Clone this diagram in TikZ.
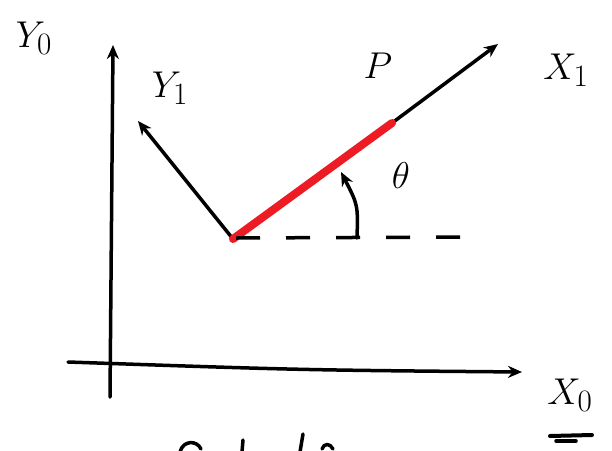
\documentclass[tikz,border=0pt]{standalone}
\usetikzlibrary{arrows.meta}
\newcommand{\biglbl}[1]{\scalebox{1.5}{\Huge$#1$}}
\begin{document}
\begin{tikzpicture}[x=1pt,y=-1pt,
  pen/.style={line width=3.5pt,line cap=round,line join=round,black},
  redpen/.style={line width=8pt,line cap=round,color={rgb,255:red,237;green,28;blue,36}},
  tip/.style={-{Stealth[length=14pt,width=12pt]}},
  lbl/.style={inner sep=0pt}]
\useasboundingbox (0,0) rectangle (612,450);
\begin{scope}
\clip (0,0) rectangle (612,450);
% coordinates
\coordinate (y0base) at (110,397);
\coordinate (y0tip) at (113,45);
\coordinate (x0base) at (68,362);
\coordinate (x0mid) at (300,370);
\coordinate (x0tip) at (522,372);
\coordinate (o1) at (233,239);
\coordinate (pmid) at (392,123);
\coordinate (x1tip) at (498,44);
\coordinate (y1tip) at (138,121);
\coordinate (dstart) at (236,238);
\coordinate (dend) at (466,237);
\coordinate (arcstart) at (357,238);
\coordinate (arcend) at (341,172);
% fixed frame axes
\draw[pen,tip] (y0base) -- (y0tip);
\draw[pen,tip] (x0base) .. controls (x0mid) .. (x0tip);
% moving frame
\draw[pen,tip] (o1) -- (y1tip);
\draw[pen,tip] (pmid) -- (x1tip);
\draw[redpen] (o1) -- (pmid);
\draw[pen,line cap=butt,dash pattern=on 24pt off 26pt] (dstart) -- (dend);
\draw[pen,tip] (arcstart) .. controls (358,205) .. (arcend);
% labels
\node[lbl] (ly0) at (34,38) {\biglbl{Y_0}};
\node[lbl] (ly1) at (170,88) {\biglbl{Y_1}};
\node[lbl] (lx1) at (566,70) {\biglbl{X_1}};
\node[lbl] (lx0) at (570,395) {\biglbl{X_0}};
\node[lbl] (lth) at (401,176) {\biglbl{\theta}};
\node[lbl] (lp) at (378,66) {\biglbl{P}};
% cut-off marks at the bottom edge
\draw[pen] (180,452) .. controls (183,440) and (197,440) .. (201,449);
\draw[pen] (243,440) -- (242,452);
\draw[pen] (303,434) -- (300,452);
\draw[pen] (322,449) .. controls (324,443) and (330,443) .. (333,449);
\draw[pen,line width=4pt] (550,436) -- (592,435);
\draw[pen] (556,441) -- (576,441);
\end{scope}
\end{tikzpicture}
\end{document}
